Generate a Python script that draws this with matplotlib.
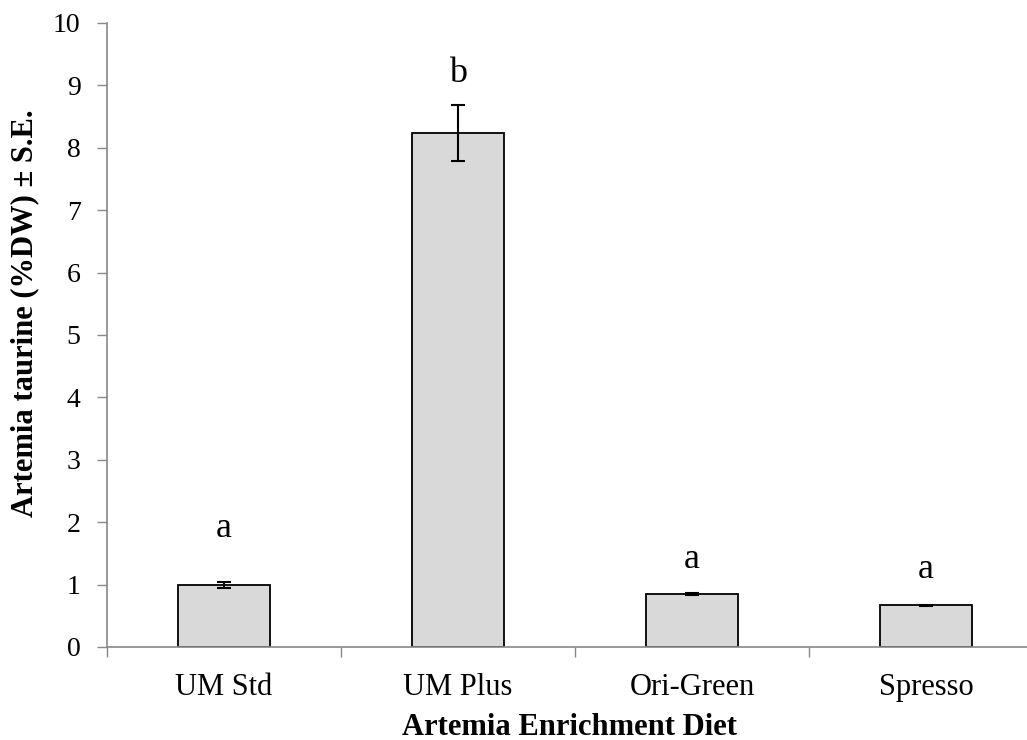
import matplotlib
matplotlib.use("Agg")
import matplotlib.pyplot as plt
import numpy as np

categories = ["UM Std", "UM Plus", "Ori-Green", "Spresso"]
taurine = [0.99, 8.24, 0.85, 0.67]
std_err = [0.05, 0.45, 0.015, 0.01]
letters = ["a", "b", "a", "a"]
letter_y = [1.76, 9.05, 1.27, 1.11]

plt.rcParams["font.family"] = ["Liberation Serif", "DejaVu Serif"]

W, H = 1027, 740
fig = plt.figure(figsize=(W / 100, H / 100), dpi=100)
left, right = 107, 1027
bottom, top = 647, 23
ax = fig.add_axes([left / W, 1 - bottom / H, (right - left) / W, (bottom - top) / H])

x = np.arange(len(categories))
ax.bar(x, taurine, width=0.39, color="#d9d9d9", edgecolor="black", linewidth=1.3, zorder=2)
ax.errorbar(x, taurine, yerr=std_err, fmt="none", ecolor="black", elinewidth=1.5,
            capsize=5, capthick=1.5, zorder=3)

# significance letters
for xi, lab, ly in zip(x, letters, letter_y):
    ax.text(xi, ly, lab, ha="center", va="baseline", fontsize=26)

span = (right - left) / 234.0
ax.set_xlim(-0.5, -0.5 + span)
ax.set_ylim(0, 10)
ax.set_yticks(np.arange(0, 11, 1))
ax.set_xticks(x)
ax.set_xticklabels(categories, fontsize=22)
ax.set_xticks(np.arange(-0.5, 3.5, 1), minor=True)
ax.tick_params(axis="x", which="major", length=0, pad=19)
ax.tick_params(axis="x", which="minor", length=7, width=1, color="#888888", direction="out")
ax.tick_params(axis="y", labelsize=20, length=7, width=1, color="#888888", pad=12)

for s in ["top", "right"]:
    ax.spines[s].set_visible(False)
for s in ["left", "bottom"]:
    ax.spines[s].set_color("#888888")
    ax.spines[s].set_linewidth(1.2)

ax.set_xlabel("Artemia Enrichment Diet", fontsize=22, fontweight="bold")
ax.xaxis.set_label_coords(569 / W, 1 - 735 / H, transform=fig.transFigure)
ax.xaxis.label.set_va("baseline")
ax.set_ylabel("Artemia taurine (%DW) \u00b1 S.E.", fontsize=22, fontweight="bold")
ax.yaxis.set_label_coords(25 / W, 1 - 313 / H, transform=fig.transFigure)
ax.yaxis.label.set_va("center")

fig.savefig("out.png", dpi=100)
